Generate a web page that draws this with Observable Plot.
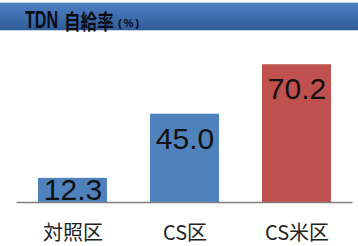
<!DOCTYPE html>
<html>
<head>
<meta charset="utf-8">
<script src="https://cdn.jsdelivr.net/npm/d3@7"></script>
<script src="https://cdn.jsdelivr.net/npm/@observablehq/plot@0.6"></script>
<style>
  html, body { margin: 0; padding: 0; background: #fff; width: 358px; height: 246px; overflow: hidden; }
  #title { position: relative; height: 33px; }
  #bar {
    position: absolute; left: 0; right: 0; top: 2px; height: 27px;
    background: linear-gradient(#4d80c4, #2f5c98);
    border-top: 1px solid #c4d2e4;
    border-bottom: 1px solid #c4d2e4;
  }
  .t { position: absolute; color: #0b0b14; white-space: nowrap; transform-origin: 0 0; font-weight: bold; }
  #t1 { left: 25px; top: 9px; font-family: "Liberation Sans", sans-serif; font-size: 23px; line-height: 23px; transform: scaleX(0.70); }
  #t2 { left: 64px; top: 10px; font-family: "Noto Sans CJK JP", sans-serif; font-size: 21px; line-height: 21px; transform: scaleX(0.79); }
  #t3 { left: 118px; top: 18px; font-family: "Liberation Sans", sans-serif; font-size: 11px; line-height: 11px; letter-spacing: 2px; }
</style>
</head>
<body>
<div id="title"><div id="bar"></div><span class="t" id="t1">TDN</span><span class="t" id="t2">自給率</span><span class="t" id="t3">(%)</span></div>
<div id="chart"></div>
<script>
const categories = ["対照区", "CS区", "CS米区"];
const values = [12.3, 45.0, 70.2];
const colors = ["#4f81bd", "#4f81bd", "#c0504d"];

const data = categories.map((c, i) => ({category: c, value: values[i], color: colors[i]}));

const chart = Plot.plot({
  width: 358,
  height: 213,
  marginTop: 12,
  marginBottom: 44,
  marginLeft: 16.5,
  marginRight: 5.5,
  style: {fontFamily: "'Noto Sans CJK JP', sans-serif", background: "#fff"},
  x: {domain: categories, paddingInner: 0.38, paddingOuter: 0.19, label: null},
  y: {domain: [0, 80], axis: null},
  marks: [
    Plot.barY(data, {x: "category", y: "value", fill: d => d.color}),
    Plot.ruleY([0], {stroke: "#7f7f7f", strokeWidth: 1.5}),
    Plot.text(data, {
      x: "category",
      y: d => Math.max(d.value - 12.75, 6.1),
      text: d => d.value.toFixed(1),
      fontSize: 30,
      fontFamily: "'Liberation Sans', Arial, sans-serif",
      fill: "#111",
      lineAnchor: "middle"
    }),
    Plot.axisX({tickSize: 0, tickPadding: 23, fontSize: 20, fill: "#222", label: null})
  ]
});
document.getElementById("chart").append(chart);
</script>
</body>
</html>
